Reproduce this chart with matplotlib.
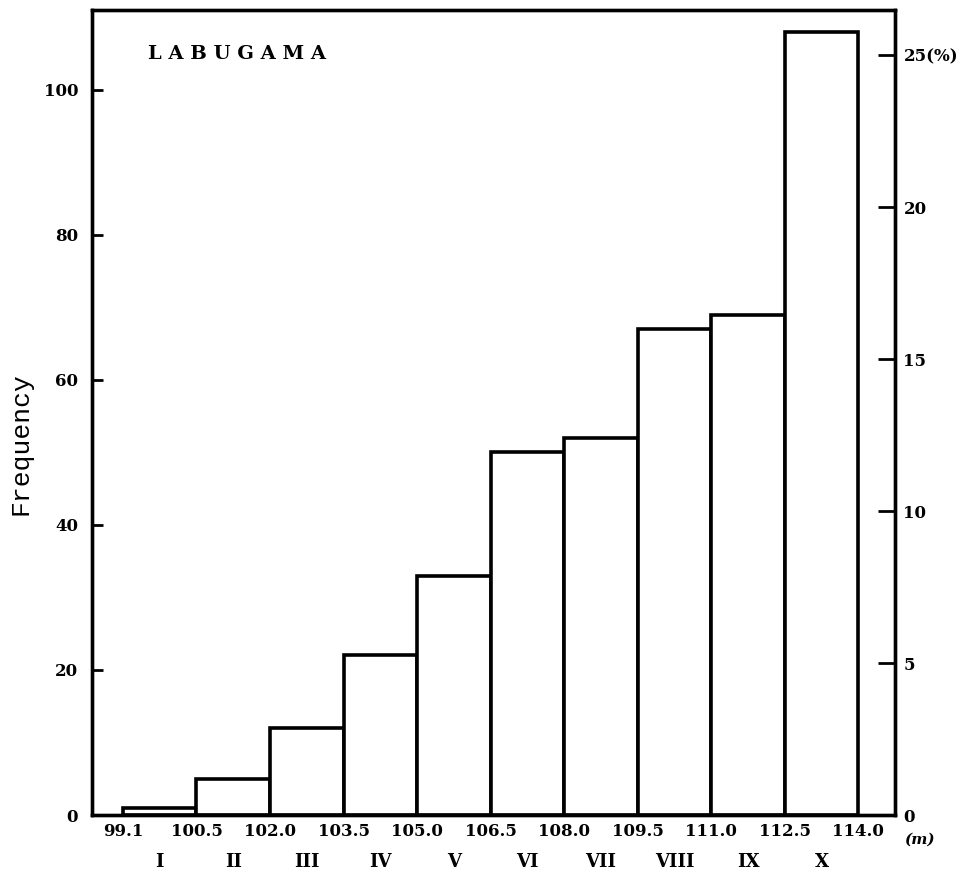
import matplotlib
matplotlib.use("Agg")
import matplotlib.pyplot as plt
import matplotlib.transforms as mtransforms

# class limits (m), class numbers and counts
edges = ["99.1", "100.5", "102.0", "103.5", "105.0", "106.5",
         "108.0", "109.5", "111.0", "112.5", "114.0"]
classes = ["I", "II", "III", "IV", "V", "VI", "VII", "VIII", "IX", "X"]
freq = [1, 5, 12, 22, 33, 50, 52, 67, 69, 108]
freq_ticks = [0, 20, 40, 60, 80, 100]
pct_ticks = [0, 5, 10, 15, 20, 25]

total = sum(freq)
ytop = 111

serif = "DejaVu Serif"

fig = plt.figure(figsize=(9.75, 8.89), dpi=100)
ax = fig.add_axes([0.0944, 0.0832, 0.8236, 0.9056])

ax.bar(range(len(freq)), freq, width=1.0, align="edge",
       facecolor="white", edgecolor="black", linewidth=2.6)

ax.set_xlim(-0.42, 10.5)
ax.set_ylim(0, ytop)
for s in ax.spines.values():
    s.set_linewidth(2.4)

ax.set_yticks(freq_ticks)
ax.set_yticklabels([str(t) for t in freq_ticks], fontfamily=serif,
                   fontweight="bold", fontsize=12)
ax.tick_params(axis="y", direction="in", length=8, width=2, pad=10)

ax.set_xticks(range(len(edges)))
ax.set_xticklabels(edges, fontfamily=serif, fontweight="bold", fontsize=12)
ax.tick_params(axis="x", length=0, pad=6)

ax.set_ylabel("Frequency", family=["Liberation Mono", "DejaVu Sans Mono"],
              fontsize=19)
ax.yaxis.set_label_coords(-0.074, 0.461)

# class numbers under the bars
trans = mtransforms.blended_transform_factory(ax.transData, ax.transAxes)
for i, c in enumerate(classes):
    ax.text(i + 0.5, -0.058, c, transform=trans, ha="center", va="center",
            fontfamily=serif, fontweight="bold", fontsize=13)

ax.text(10.62, -0.03, "(m)", transform=trans, ha="left", va="center",
        fontfamily=serif, fontstyle="italic", fontweight="bold", fontsize=11)

ax.text(0.07, 0.945, "L A B U G A M A", transform=ax.transAxes, ha="left",
        va="center", fontfamily=serif, fontweight="bold", fontsize=14)

# percentage scale on the right
ax2 = ax.twinx()
ax2.set_ylim(0, ytop / total * 100)
ax2.set_yticks(pct_ticks)
ax2.set_yticklabels([str(t) for t in pct_ticks[:-1]] + ["25(%)"],
                    fontfamily=serif, fontweight="bold", fontsize=12)
ax2.tick_params(axis="y", direction="in", length=12, width=2, pad=6)
for s in ax2.spines.values():
    s.set_linewidth(2.4)

fig.savefig("out.png", dpi=100)
